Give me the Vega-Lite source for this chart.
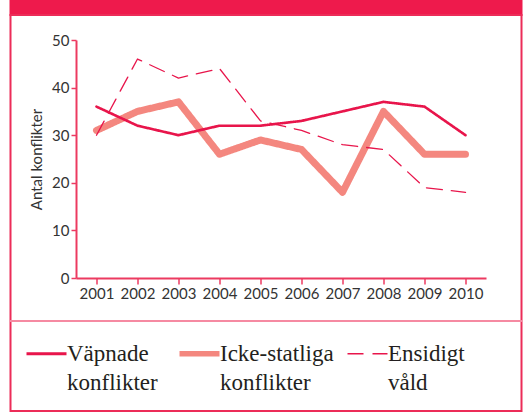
{
  "$schema": "https://vega.github.io/schema/vega-lite/v6.json",
  "padding": {"left": 8.5, "top": -1, "right": 0, "bottom": 0},
  "background": "white",
  "spacing": 0,
  "bounds": "flush",
  "resolve": {"legend": {"color": "independent", "strokeDash": "independent"}, "scale": {"color": "independent", "strokeDash": "independent"}},
  "data": {"values": [
    {"series": "Icke-statliga konflikter", "year": 2001, "value": 31},
    {"series": "Icke-statliga konflikter", "year": 2002, "value": 35},
    {"series": "Icke-statliga konflikter", "year": 2003, "value": 37},
    {"series": "Icke-statliga konflikter", "year": 2004, "value": 26},
    {"series": "Icke-statliga konflikter", "year": 2005, "value": 29},
    {"series": "Icke-statliga konflikter", "year": 2006, "value": 27},
    {"series": "Icke-statliga konflikter", "year": 2007, "value": 18},
    {"series": "Icke-statliga konflikter", "year": 2008, "value": 35},
    {"series": "Icke-statliga konflikter", "year": 2009, "value": 26},
    {"series": "Icke-statliga konflikter", "year": 2010, "value": 26},
    {"series": "Väpnade konflikter", "year": 2001, "value": 36},
    {"series": "Väpnade konflikter", "year": 2002, "value": 32},
    {"series": "Väpnade konflikter", "year": 2003, "value": 30},
    {"series": "Väpnade konflikter", "year": 2004, "value": 32},
    {"series": "Väpnade konflikter", "year": 2005, "value": 32},
    {"series": "Väpnade konflikter", "year": 2006, "value": 33},
    {"series": "Väpnade konflikter", "year": 2007, "value": 35},
    {"series": "Väpnade konflikter", "year": 2008, "value": 37},
    {"series": "Väpnade konflikter", "year": 2009, "value": 36},
    {"series": "Väpnade konflikter", "year": 2010, "value": 30},
    {"series": "Ensidigt våld", "year": 2001, "value": 30},
    {"series": "Ensidigt våld", "year": 2002, "value": 46},
    {"series": "Ensidigt våld", "year": 2003, "value": 42},
    {"series": "Ensidigt våld", "year": 2004, "value": 44},
    {"series": "Ensidigt våld", "year": 2005, "value": 33},
    {"series": "Ensidigt våld", "year": 2006, "value": 31},
    {"series": "Ensidigt våld", "year": 2007, "value": 28},
    {"series": "Ensidigt våld", "year": 2008, "value": 27},
    {"series": "Ensidigt våld", "year": 2009, "value": 19},
    {"series": "Ensidigt våld", "year": 2010, "value": 18}
  ]},
  "vconcat": [
    {
      "width": 511,
      "height": 15,
      "view": {"fill": "#ee1a4c", "stroke": "#ee1a4c", "strokeWidth": 2},
      "mark": {"type": "text", "text": ""},
      "encoding": {}
    },
    {
      "width": 511,
      "height": 396,
      "view": {"fill": "white", "stroke": "#ec2c58", "strokeWidth": 2},
      "layer": [
        {
          "mark": {"type": "rule", "color": "#f58aa2", "strokeWidth": 1.2},
          "encoding": {
            "y": {"datum": -9, "type": "quantitative", "scale": {"domain": [0, 50], "range": [263, 25]}}
          }
        },
        {
          "mark": {"type": "line", "strokeCap": "round", "strokeJoin": "round"},
          "encoding": {
            "x": {
              "field": "year", "type": "ordinal",
              "scale": {"range": [65.5, 475.5]},
              "axis": {
                "title": null, "labelAngle": 0, "offset": -133, "grid": false,
                "domainColor": "#ec3a60", "domainWidth": 2,
                "tickColor": "#ec3a60", "tickWidth": 1.5, "tickSize": 6,
                "labelFont": "Lato", "labelFontSize": 15, "labelColor": "#333333", "labelPadding": 2
              }
            },
            "y": {
              "field": "value", "type": "quantitative",
              "scale": {"domain": [0, 50], "range": [263, 25]},
              "axis": {
                "title": "Antal konflikter", "values": [0, 10, 20, 30, 40, 50],
                "offset": -65.5, "grid": false,
                "domainColor": "#ec3a60", "domainWidth": 2,
                "tickColor": "#ec3a60", "tickWidth": 1.5, "tickSize": 5,
                "labelFont": "Lato", "labelFontSize": 15, "labelColor": "#333333", "labelPadding": 2,
                "titleFont": "Lato", "titleFontSize": 15, "titleFontWeight": "normal", "titleColor": "#333333", "titlePadding": 7
              }
            },
            "color": {
              "field": "series", "type": "nominal",
              "scale": {"domain": ["Väpnade konflikter", "Icke-statliga konflikter", "Ensidigt våld"], "range": ["#e8154b", "#f4877f", "#e8154b"]},
              "legend": {
                "title": null, "orient": "none", "legendX": 24.5, "legendY": 327, "direction": "horizontal",
                "symbolType": "stroke", "symbolSize": 1600, "symbolStrokeWidth": 3,
                "labelFont": "Liberation Serif", "labelFontSize": 23, "labelColor": "#231f20",
                "labelExpr": "split(datum.label, ' ')", "labelLimit": 0, "labelOffset": 9,
                "columnPadding": 10, "padding": 0,
                "encode": {
                  "symbols": {"update": {"strokeWidth": {"signal": "datum.value === 'Icke-statliga konflikter' ? 5.5 : datum.value === 'Ensidigt våld' ? 1.3 : 2.8"}}},
                  "labels": {"update": {"lineHeight": {"value": 29}}}
                }
              }
            },
            "strokeDash": {
              "field": "series", "type": "nominal",
              "scale": {"domain": ["Väpnade konflikter", "Icke-statliga konflikter", "Ensidigt våld"], "range": [[1, 0], [1, 0], [16, 9]]},
              "legend": {
                "title": null, "orient": "none", "legendX": 24.5, "legendY": 327, "direction": "horizontal",
                "symbolType": "stroke", "symbolSize": 1600, "symbolStrokeWidth": 3,
                "labelFont": "Liberation Serif", "labelFontSize": 23, "labelColor": "#231f20",
                "labelExpr": "split(datum.label, ' ')", "labelLimit": 0, "labelOffset": 9,
                "columnPadding": 10, "padding": 0,
                "encode": {
                  "symbols": {"update": {"strokeWidth": {"signal": "datum.value === 'Icke-statliga konflikter' ? 5.5 : datum.value === 'Ensidigt våld' ? 1.3 : 2.8"}}},
                  "labels": {"update": {"lineHeight": {"value": 29}}}
                }
              }
            },
            "strokeWidth": {
              "condition": [
                {"test": "datum.series === 'Icke-statliga konflikter'", "value": 7},
                {"test": "datum.series === 'Ensidigt våld'", "value": 1.3}
              ],
              "value": 2.6
            }
          }
        }
      ]
    }
  ]
}
